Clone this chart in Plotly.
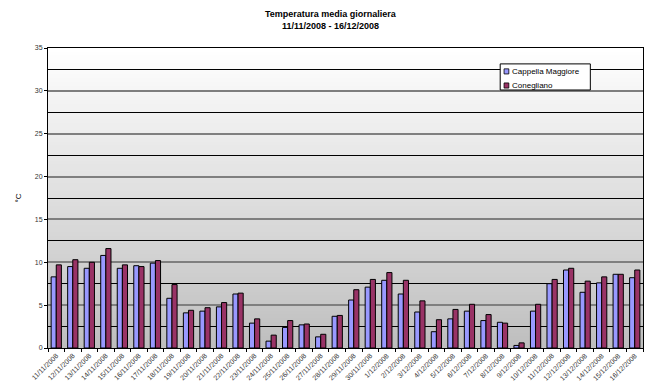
import plotly.graph_objects as go

# Daily mean temperature, 11/11/2008 - 16/12/2008
days = [f"{d}/11/2008" for d in range(11, 31)] + [f"{d}/12/2008" for d in range(1, 17)]

cappella = [8.3, 9.5, 9.3, 10.8, 9.3, 9.6, 9.9, 5.8, 4.1, 4.3, 4.8, 6.3, 2.9, 0.8,
            2.4, 2.7, 1.3, 3.7, 5.6, 7.1, 7.9, 6.3, 4.2, 1.9, 3.4, 4.3, 3.2, 3.0,
            0.3, 4.3, 7.5, 9.1, 6.5, 7.6, 8.6, 8.2]
conegliano = [9.7, 10.3, 10.0, 11.6, 9.7, 9.5, 10.2, 7.4, 4.4, 4.7, 5.3, 6.4, 3.4, 1.5,
              3.2, 2.8, 1.6, 3.8, 6.8, 8.0, 8.8, 7.9, 5.5, 3.3, 4.5, 5.1, 3.9, 2.9,
              0.6, 5.1, 8.0, 9.3, 7.8, 8.3, 8.6, 9.1]

series = [("Cappella Maggiore", cappella, "#9999ff"),
          ("Conegliano", conegliano, "#993366")]

y_max = 35
FONT = "Liberation Sans, Arial, sans-serif"

fig = go.Figure()
for name, vals, col in series:
    fig.add_trace(go.Bar(name=name, x=days, y=vals, showlegend=False,
                         marker=dict(color=col, line=dict(color="black", width=1))))

# vertical grey gradient behind the plot area (stacked so no seams show)
steps = 80
for i in range(steps):
    y0 = y_max * i / steps
    t = (i + 0.5) / steps
    g = int(round(190 + (255 - 190) * t))
    fig.add_shape(type="rect", xref="x domain", yref="y", x0=0, x1=1, y0=y0, y1=y_max,
                  fillcolor=f"rgb({g},{g},{g})", line=dict(width=0), layer="below")

# legend box
fig.add_shape(type="rect", xref="paper", yref="paper", x0=0.76, x1=0.9115,
              y0=0.86, y1=0.947, fillcolor="white", line=dict(color="black", width=1),
              layer="above")
for k, (name, vals, col) in enumerate(series):
    yc = 0.922 - k * 0.047
    fig.add_shape(type="rect", xref="paper", yref="paper",
                  x0=0.7665, x1=0.7745, y0=yc - 0.0085, y1=yc + 0.0085,
                  fillcolor=col, line=dict(color="black", width=0.8), layer="above")
    fig.add_annotation(text=name, xref="paper", yref="paper", x=0.777, y=yc,
                       xanchor="left", yanchor="middle", showarrow=False,
                       font=dict(family=FONT, size=8, color="black"))

# chart title
fig.add_annotation(text="<b>Temperatura media giornaliera<br>11/11/2008 - 16/12/2008</b>",
                   xref="paper", yref="paper", x=0.4756, y=1.093,
                   xanchor="center", yanchor="middle", showarrow=False,
                   font=dict(family=FONT, size=9, color="black"))

fig.update_layout(
    width=652, height=385,
    margin=dict(l=48, r=9, t=48, b=37),
    paper_bgcolor="white", plot_bgcolor="rgba(0,0,0,0)",
    barmode="group", bargap=0.38, bargroupgap=0.0,
    font=dict(family=FONT, size=7, color="black"),
    showlegend=False,
    xaxis=dict(tickangle=-45, tickson="boundaries", ticks="outside", ticklen=3,
               tickcolor="black", showline=True, linecolor="black", mirror=True,
               automargin=False, tickfont=dict(size=7, color="#333333")),
    yaxis=dict(range=[0, y_max], dtick=5, ticks="outside", ticklen=3, tickcolor="black",
               showline=True, linecolor="black", mirror=True, automargin=False,
               showgrid=True, gridcolor="#7f7f7f", gridwidth=1.5,
               minor=dict(dtick=2.5, showgrid=True, gridcolor="black", gridwidth=1),
               zeroline=False,
               title=dict(text="°C", standoff=12, font=dict(size=8)),
               tickfont=dict(size=7, color="#333333")),
)

fig.write_html("out.html")
